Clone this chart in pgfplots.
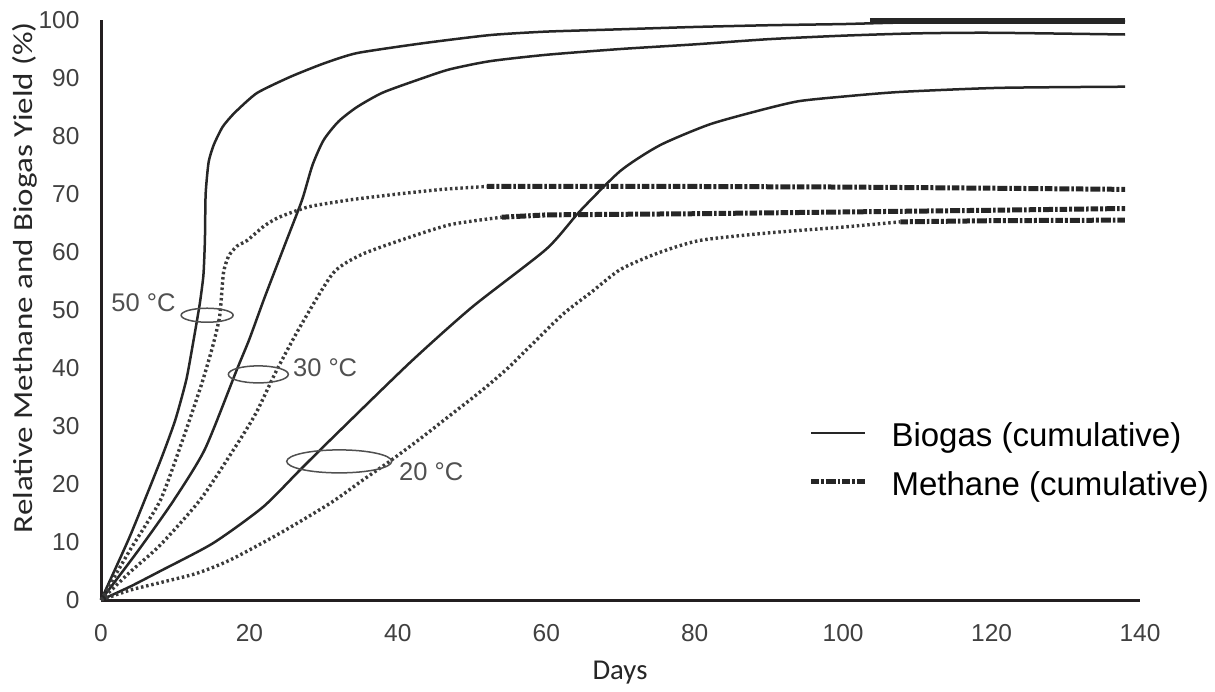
\documentclass[border=0pt]{standalone}
\usepackage{fontspec}
\setmainfont{Liberation Sans}
\newfontfamily\calibri{Carlito}
\usepackage{pgfplots}
\pgfplotsset{compat=1.18}
\definecolor{axc}{HTML}{231F20}
\definecolor{tickc}{HTML}{404040}
\definecolor{curve}{HTML}{262626}
\definecolor{dotc}{HTML}{3A3A3A}
\definecolor{annc}{HTML}{505050}
\tikzset{
  biogas/.style={curve, line width=1pt},
  methdot/.style={dotc, line width=1.35pt, dash pattern=on 1pt off 1.1pt},
  methplat/.style={curve, line width=2pt, dash pattern=on 3pt off 0.8pt on 1.2pt off 0.8pt on 4pt off 0.8pt on 1pt off 0.8pt},
}
\begin{document}
\begin{tikzpicture}[x=1pt,y=1pt]
\path[use as bounding box] (-40.4,-36.4) rectangle (445.6,240);
\begin{axis}[
  at={(0,0)}, anchor=south west,
  scale only axis, width=415.6pt, height=232pt,
  xmin=0, xmax=140, ymin=0, ymax=100,
  axis lines=left,
  axis line style={-, line width=1.2pt, color=axc},
  xtick={0,20,...,140}, ytick={0,10,...,100},
  major tick length=0pt,
  tick label style={font=\fontsize{9.8}{10}\selectfont, text=tickc},
  xticklabel style={anchor=center, yshift=-13.2pt},
  yticklabel style={anchor=east, inner sep=0pt, xshift=-8.4pt},
  /pgf/number format/assume math mode=true,
  clip=false,
  legend style={draw=none, fill=none, at={(rel axis cs:0.6805,0.307)}, anchor=north west,
    font=\fontsize{13.2}{14}\selectfont, inner sep=0pt, row sep=7.3pt, column sep=9.6pt,
    nodes={inner sep=0pt, text height=9.5pt, text depth=2.8pt}},
  legend cell align=left,
  legend image code/.code={\draw[#1] (0pt,2pt) -- (21.6pt,2pt);},
]
% Biogas 50 C
\addplot[biogas, smooth, tension=0.35, forget plot] coordinates {
(0,0)(3.9,11)(8,24)(10,31)(11.5,38)(12.5,45)(13.3,51)(13.8,56)(14,62)(14.1,70)(14.5,75.5)(15.2,78.5)(16.4,81.6)(18,84)(21,87.4)(25.5,90.2)(30,92.5)(34.5,94.3)(43.4,96)(52.4,97.4)(60,98)(70,98.4)(80,98.8)(90,99.1)(100,99.3)(110,99.6)(138,99.8)};
\addplot[curve, line width=2.6pt, forget plot] coordinates {(103.6,99.8)(138,99.8)};
% Biogas 30 C
\addplot[biogas, smooth, tension=0.4, forget plot] coordinates {
(0,0)(5,8.5)(9.7,17)(14,26)(18.3,39.7)(20,45)(22,52)(25,62)(27.1,69)(28.5,75)(30,79.3)(32,82.5)(34.5,85)(38,87.5)(43.4,90)(47,91.5)(52.4,92.9)(60,94)(70,95)(80,95.8)(90,96.7)(100,97.3)(110,97.7)(120,97.8)(138,97.5)};
% Biogas 20 C
\addplot[biogas, smooth, tension=0.4, forget plot] coordinates {
(0,0)(3.9,2.3)(8,5)(15.1,9.8)(21.8,16)(26.8,22.4)(30.9,27.6)(41.6,40.9)(50,50.5)(60,60.5)(64.5,67)(70,74)(75.3,78.4)(82,82)(89,84.5)(94,86)(100,86.8)(107.7,87.6)(121,88.3)(138,88.5)};
% Methane 50 C
\addplot[methdot, smooth, tension=0.35, forget plot] coordinates {
(0,0)(3.9,8.6)(8,17.2)(11,27.6)(13.5,37)(15,43.5)(16,49)(16.5,56.4)(17.2,59.3)(18.3,61)(19.7,62)(22,64.5)(24,66)(28,67.8)(33.6,69)(40,70)(46,70.8)(52,71.3)};
\addplot[methplat, forget plot] coordinates {(52,71.3)(80,71.3)(100,71.2)(120,71)(138,70.8)};
% Methane 30 C
\addplot[methdot, smooth, tension=0.4, forget plot] coordinates {
(0,0)(3.9,4.8)(8,9.5)(13.5,17.5)(18.7,27.6)(21,32.5)(23.7,39.7)(27,47.5)(31.3,56.4)(35,59.5)(40.3,62)(47,64.7)(54,66)};
\addplot[methplat, forget plot] coordinates {(54,66)(60,66.4)(80,66.6)(100,66.9)(120,67.2)(138,67.5)};
% Methane 20 C
\addplot[methdot, smooth, tension=0.4, forget plot] coordinates {
(0,0)(3.9,1.7)(8,3)(12.9,4.6)(17.4,6.9)(24.1,11.5)(30.9,16.7)(35.3,20.7)(39,24)(43,27.8)(47,31.8)(51,35.8)(55,40.2)(62,49)(66,53)(70,57)(75,59.8)(80.7,62)(90,63.3)(100,64.3)(107.7,65.2)};
\addplot[methplat, forget plot] coordinates {(107.7,65.2)(120,65.4)(138,65.5)};
% legend
\addlegendimage{biogas}
\addlegendentry{Biogas (cumulative)}
\addlegendimage{methplat}
\addlegendentry{Methane (cumulative)}
% annotations
\draw[annc, line width=0.6pt] (axis cs:14.3,49.1) ellipse [x radius=10.4pt, y radius=2.8pt];
\draw[annc, line width=0.6pt] (axis cs:21.2,38.9) ellipse [x radius=12pt, y radius=3.4pt];
\draw[annc, line width=0.6pt] (axis cs:32.1,23.9) ellipse [x radius=21pt, y radius=4.6pt];
\node[text=annc, font=\fontsize{10.2}{12}\selectfont, inner sep=0pt] at (axis cs:5.73,51.2) {50 °C};
\node[text=annc, font=\fontsize{10.2}{12}\selectfont, inner sep=0pt] at (axis cs:30.2,40.0) {30 °C};
\node[text=annc, font=\fontsize{10.2}{12}\selectfont, inner sep=0pt] at (axis cs:44.5,22.1) {20 °C};
\end{axis}
\node[rotate=90, text=curve, inner sep=0pt] at (-30.4,129) {\scalebox{1.2}[1]{\fontsize{11}{12}\calibri Relative Methane and Biogas Yield (\%)}};
\node[text=curve, inner sep=0pt] at (207.6,-29.2) {\fontsize{11.5}{12}\calibri Days};
\end{tikzpicture}
\end{document}
